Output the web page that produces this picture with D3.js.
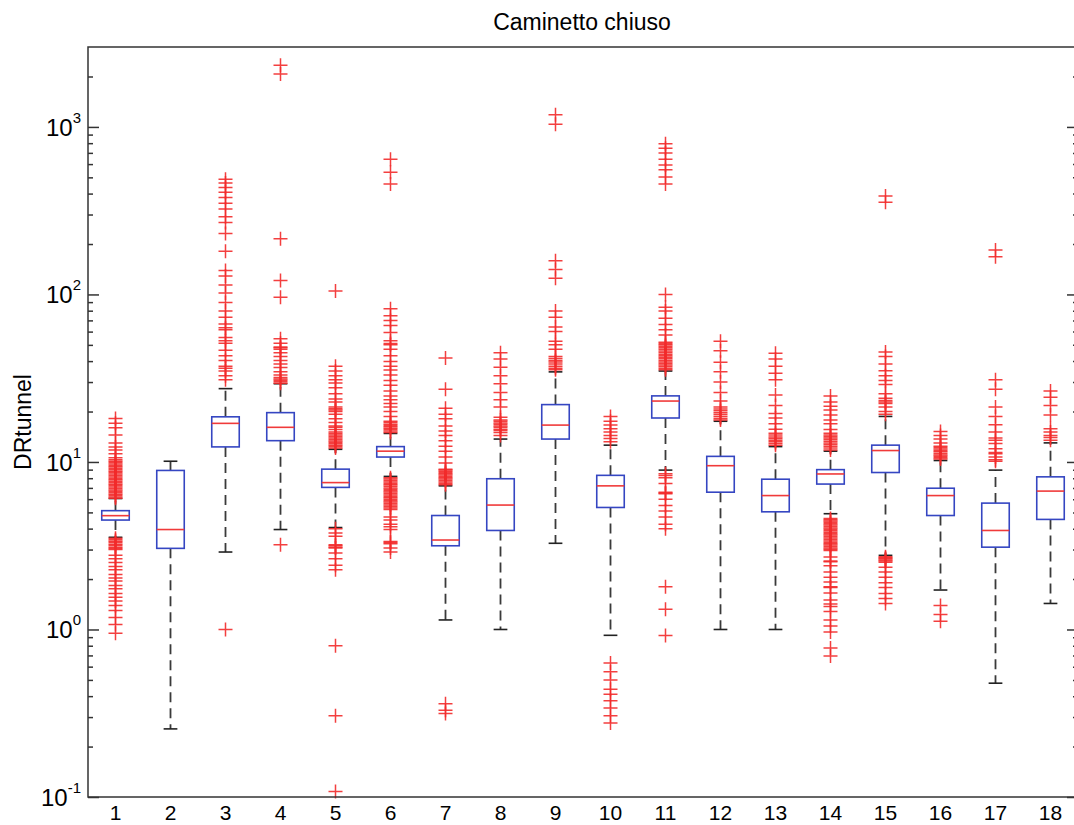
<!DOCTYPE html>
<html>
<head>
<meta charset="utf-8">
<script src="https://cdn.jsdelivr.net/npm/d3@7"></script>
<style>
  html, body { margin: 0; padding: 0; background: #fff; }
  svg { display: block; font-family: "Liberation Sans", Arial, sans-serif; }
</style>
</head>
<body>
<svg id="chart" width="1074" height="825"></svg>
<script>
// Box statistics per group (DRtunnel, log scale)
const categories = ["1","2","3","4","5","6","7","8","9","10","11","12","13","14","15","16","17","18"];
const lowerWhisker = [3.55, 0.255, 2.9, 3.95, 4.06, 8.2, 1.14, 1.0, 3.27, 0.923, 8.94, 1.0, 1.0, 4.91, 2.77, 1.72, 0.478, 1.43];
const q1Values     = [4.5, 3.05, 12.3, 13.4, 7.05, 10.7, 3.16, 3.9, 13.7, 5.35, 18.3, 6.6, 5.04, 7.38, 8.65, 4.79, 3.1, 4.54];
const medians      = [4.78, 3.95, 17.0, 16.1, 7.53, 11.6, 3.42, 5.53, 16.6, 7.2, 23.1, 9.5, 6.3, 8.48, 11.7, 6.3, 3.9, 6.7];
const q3Values     = [5.12, 8.9, 18.6, 19.7, 9.06, 12.35, 4.79, 7.94, 22.0, 8.32, 24.8, 10.8, 7.89, 9.0, 12.6, 6.97, 5.68, 8.15];
const upperWhisker = [6.05, 10.1, 27.4, 29.3, 11.9, 14.8, 7.2, 13.7, 34.5, 12.6, 34.9, 17.5, 12.35, 11.6, 18.7, 10.2, 8.94, 13.0];

// Outliers, one list per group
const outliers = [
  [18.2, 17.0, 16.0, 14.5, 13.0, 12.3, 11.8, 11.2, 10.6, 10.3, 10.1, 9.92, 9.73, 9.54, 9.35, 9.17, 8.99, 8.81, 8.64, 8.47, 8.3, 8.14, 7.98, 7.82, 7.67, 7.52, 7.37, 7.23, 7.09, 6.95, 6.81, 6.68, 6.55, 6.42, 6.3, 6.17, 6.08,
   3.5, 3.43, 3.36, 3.3, 3.23, 3.17, 3.1, 3.04, 3.0, 2.77, 2.64, 2.51, 2.38, 2.27, 2.13, 2.03, 1.95, 1.83, 1.75, 1.64, 1.56, 1.48, 1.39, 1.30, 1.18, 1.07, 0.95],
  [],
  [1.0, 31.0, 32.7, 34.9, 36.3, 37.3, 40.4, 43.1, 46.4, 51.2, 52.9, 55.4, 61.5, 63.2, 66.6, 73.0, 79.6, 89.6, 102, 114, 129, 139, 181, 231, 269, 291, 324, 350, 379, 407, 435, 462, 487],
  [3.2, 29.5, 30.1, 30.7, 31.3, 31.9, 33.0, 34.5, 36.6, 38.5, 40.4, 42.6, 44.9, 47.0, 48.0, 48.6, 51.2, 54.3, 96.3, 121, 215, 2070, 2333],
  [0.108, 0.305, 0.80, 2.27, 2.42, 2.64, 2.86, 3.06, 3.1, 3.16, 3.2, 3.6, 3.77, 4.0,
   12.1, 12.35, 12.6, 12.85, 13.1, 13.35, 13.6, 13.9, 14.2, 14.5, 14.8, 15.1, 15.6, 16.1, 16.4, 17.2, 18.1, 19.3, 20.0, 20.4, 20.8, 21.3, 22.8, 23.8, 25.5, 27.7, 29.6, 31.0, 32.7, 34.9, 37.3, 105],
  [2.9, 3.06, 3.25, 3.31, 3.35, 3.95, 4.1, 4.25, 4.5, 4.69, 5.2, 5.32, 5.43, 5.54, 5.65, 5.76, 5.87, 5.99, 6.11, 6.23, 6.35, 6.48, 6.61, 6.74, 6.87, 7.0, 7.15, 7.3, 7.45, 7.6, 7.75, 7.9, 8.05,
   15.0, 15.3, 15.6, 15.9, 16.2, 16.5, 16.8, 17.2, 17.5, 18.7, 20.0, 21.3, 22.3, 23.5, 24.8, 26.5, 28.7, 30.6, 33.1, 35.4, 37.3, 39.8, 43.1, 47.0, 50.1, 51.0, 52.9, 59.2, 65.3, 69.8, 74.5, 82.2, 456, 537, 641],
  [0.315, 0.33, 0.36, 7.3, 7.45, 7.6, 7.75, 7.9, 8.05, 8.2, 8.35, 8.5, 8.65, 8.8, 8.95, 9.06, 9.87, 10.7, 11.6, 12.4, 13.4, 14.4, 15.3, 16.4, 18.1, 19.3, 20.9, 27.2, 41.7],
  [14.4, 15.0, 15.4, 15.7, 16.1, 16.4, 16.8, 17.1, 17.5, 17.8, 18.5, 21.3, 23.5, 26.0, 29.3, 32.7, 36.8, 41.2, 44.9],
  [35.5, 36.3, 37.3, 38.5, 39.5, 40.4, 41.5, 42.6, 47.0, 50.0, 52.6, 60, 64, 73, 79.6, 125, 141, 159, 1038, 1183],
  [0.277, 0.306, 0.34, 0.375, 0.41, 0.44, 0.50, 0.56, 0.63, 13.2, 13.8, 14.4, 15.1, 15.8, 16.6, 17.5, 18.7],
  [0.92, 1.32, 1.8, 4.0, 4.25, 4.7, 5.1, 5.5, 5.98, 6.45, 6.52, 6.6, 7.43, 8.05, 8.3, 8.5,
   35.5, 36.3, 37.1, 37.9, 38.7, 39.5, 40.4, 41.3, 42.2, 43.1, 44.0, 45.0, 46.0, 47.0, 48.0, 49.0, 50.0, 51.0, 51.9, 57.3, 61.5, 66.1, 72.1, 79.6, 84, 100, 456, 503, 555, 593, 641, 698, 746, 794],
  [17.8, 18.2, 18.7, 19.2, 19.7, 20.2, 20.7, 21.3, 23.1, 26.0, 30.0, 34.5, 39.4, 46.1, 52.6],
  [12.6, 12.9, 13.2, 13.5, 13.8, 14.1, 14.5, 14.85, 15.7, 16.9, 18.3, 19.5, 21.7, 25.1, 31.0, 33.8, 37.3, 41.2, 44.6],
  [0.695, 0.776, 0.967, 1.05, 1.14, 1.28, 1.37, 1.42, 1.5, 1.65, 1.78, 1.8, 1.92, 2.05, 2.2, 2.4, 2.54, 2.56, 2.71, 2.96, 3.01, 3.07, 3.13, 3.19, 3.25, 3.31, 3.38, 3.45, 3.52, 3.59, 3.66, 3.73, 3.8, 3.88, 3.96, 4.04, 4.12, 4.2, 4.28, 4.36, 4.44, 4.52, 4.6,
   11.8, 12.1, 12.4, 12.7, 13.0, 13.3, 13.6, 13.9, 14.2, 14.5, 14.85, 15.6, 16.9, 17.8, 19.1, 20.4, 21.5, 22.8, 24.8],
  [1.43, 1.53, 1.64, 1.78, 1.9, 2.05, 2.2, 2.35, 2.52, 2.56, 2.6, 2.64, 2.68, 2.72, 19.3, 20.0, 21.3, 22.3, 22.8, 23.3, 24.0, 25.5, 29.0, 30.6, 32.7, 35.0, 38.5, 42.6, 45.4, 355, 387],
  [1.12, 1.23, 1.39, 10.4, 10.6, 10.8, 11.0, 11.25, 11.5, 11.7, 11.95, 12.2, 12.4, 13.0, 13.7, 14.4, 15.2],
  [10.1, 10.3, 10.7, 11.2, 11.4, 12.0, 12.9, 13.5, 13.9, 15.1, 16.7, 18.7, 21.3, 27.2, 31.0, 168, 184],
  [13.5, 14.0, 14.4, 15.1, 15.8, 19.1, 21.7, 24.3, 26.5]
];

// Axis ticks
const majorTicks = [0.1, 1, 10, 100, 1000];
const majorExponents = ["-1", "0", "1", "2", "3"];
const minorTicks = [0.2,0.3,0.4,0.5,0.6,0.7,0.8,0.9, 2,3,4,5,6,7,8,9, 20,30,40,50,60,70,80,90, 200,300,400,500,600,700,800,900, 2000];

const titleText = "Caminetto chiuso";
const yLabelText = "DRtunnel";

// Layout
const plot = { left: 88, right: 1078, top: 47, bottom: 797 };
const svg = d3.select("#chart");

const x = d3.scaleBand().domain(categories).range([plot.left, plot.right]).paddingInner(0).paddingOuter(0);
const y = d3.scaleLog().domain([0.1, 3000]).range([plot.bottom, plot.top]);
const cx = c => x(c) + x.bandwidth() / 2;
const boxW = x.bandwidth() * 0.5;
const capW = x.bandwidth() * 0.25;

const rows = categories.map((c, i) => ({
  cat: c, lo: lowerWhisker[i], q1: q1Values[i], med: medians[i], q3: q3Values[i], hi: upperWhisker[i], out: outliers[i]
}));

const g = svg.append("g");

// Whiskers (dashed)
g.selectAll(".whisker-up").data(rows).join("line")
  .attr("x1", d => cx(d.cat)).attr("x2", d => cx(d.cat))
  .attr("y1", d => y(d.q3)).attr("y2", d => y(d.hi))
  .attr("stroke", "#3a3a3a").attr("stroke-width", 1.8).attr("stroke-dasharray", "10,6");
g.selectAll(".whisker-dn").data(rows).join("line")
  .attr("x1", d => cx(d.cat)).attr("x2", d => cx(d.cat))
  .attr("y1", d => y(d.q1)).attr("y2", d => y(d.lo))
  .attr("stroke", "#3a3a3a").attr("stroke-width", 1.8).attr("stroke-dasharray", "10,6");

// Whisker caps
["hi", "lo"].forEach(k => {
  g.selectAll(".cap-" + k).data(rows).join("line")
    .attr("x1", d => cx(d.cat) - capW / 2).attr("x2", d => cx(d.cat) + capW / 2)
    .attr("y1", d => y(d[k])).attr("y2", d => y(d[k]))
    .attr("stroke", "#222").attr("stroke-width", 1.6);
});

// Boxes
g.selectAll(".box").data(rows).join("rect")
  .attr("x", d => cx(d.cat) - boxW / 2).attr("width", boxW)
  .attr("y", d => y(d.q3)).attr("height", d => y(d.q1) - y(d.q3))
  .attr("fill", "none").attr("stroke", "#3546c2").attr("stroke-width", 1.6);

// Medians
g.selectAll(".median").data(rows).join("line")
  .attr("x1", d => cx(d.cat) - boxW / 2).attr("x2", d => cx(d.cat) + boxW / 2)
  .attr("y1", d => y(d.med)).attr("y2", d => y(d.med))
  .attr("stroke", "#f03a3a").attr("stroke-width", 1.6);

// Outliers as '+' markers
const pts = rows.flatMap(d => d.out.map(v => ({ cat: d.cat, v })));
const arm = 7;
const outG = g.append("g").attr("stroke", "#f22a2a").attr("stroke-width", 1.5).attr("stroke-opacity", 0.9);
outG.selectAll("path").data(pts).join("path")
  .attr("d", d => {
    const px = cx(d.cat), py = y(d.v);
    return `M${px - arm},${py}H${px + arm}M${px},${py - arm}V${py + arm}`;
  })
  .attr("fill", "none");

// Frame
svg.append("rect")
  .attr("x", plot.left).attr("y", plot.top)
  .attr("width", plot.right - plot.left).attr("height", plot.bottom - plot.top)
  .attr("fill", "none").attr("stroke", "#333").attr("stroke-width", 1.5);

// Y ticks, pointing inward on both sides
const yMajorL = d3.axisLeft(y).tickValues(majorTicks).tickSizeInner(-11).tickSizeOuter(0).tickFormat("");
const yMinorL = d3.axisLeft(y).tickValues(minorTicks).tickSizeInner(-5).tickSizeOuter(0).tickFormat("");
const yMajorR = d3.axisRight(y).tickValues(majorTicks).tickSizeInner(-11).tickSizeOuter(0).tickFormat("");
const yMinorR = d3.axisRight(y).tickValues(minorTicks).tickSizeInner(-5).tickSizeOuter(0).tickFormat("");
[[yMajorL, plot.left], [yMinorL, plot.left], [yMajorR, plot.right], [yMinorR, plot.right]].forEach(([ax, tx]) => {
  const a = svg.append("g").attr("transform", `translate(${tx},0)`).call(ax);
  a.select(".domain").remove();
  a.selectAll("line").attr("stroke", "#333").attr("stroke-width", 1.5);
});

// Y tick labels as 10^n
const yl = svg.append("g").attr("fill", "#000");
majorTicks.forEach((t, i) => {
  const txt = yl.append("text")
    .attr("x", 81).attr("y", y(t) + 9)
    .attr("text-anchor", "end").attr("font-size", 24);
  txt.append("tspan").text("10");
  txt.append("tspan").attr("dy", -13).attr("font-size", 15).text(majorExponents[i]);
});

// X tick labels
svg.append("g").selectAll("text").data(categories).join("text")
  .attr("x", d => cx(d)).attr("y", 820)
  .attr("text-anchor", "middle").attr("font-size", 21).attr("fill", "#000")
  .text(d => d);

// Title and axis label
svg.append("text")
  .attr("x", (plot.left + plot.right) / 2 - 1).attr("y", 30)
  .attr("text-anchor", "middle").attr("font-size", 23).attr("fill", "#000")
  .text(titleText);

svg.append("text")
  .attr("transform", `translate(31,${(plot.top + plot.bottom) / 2}) rotate(-90)`)
  .attr("text-anchor", "middle").attr("font-size", 23).attr("fill", "#000")
  .text(yLabelText);
</script>
</body>
</html>
